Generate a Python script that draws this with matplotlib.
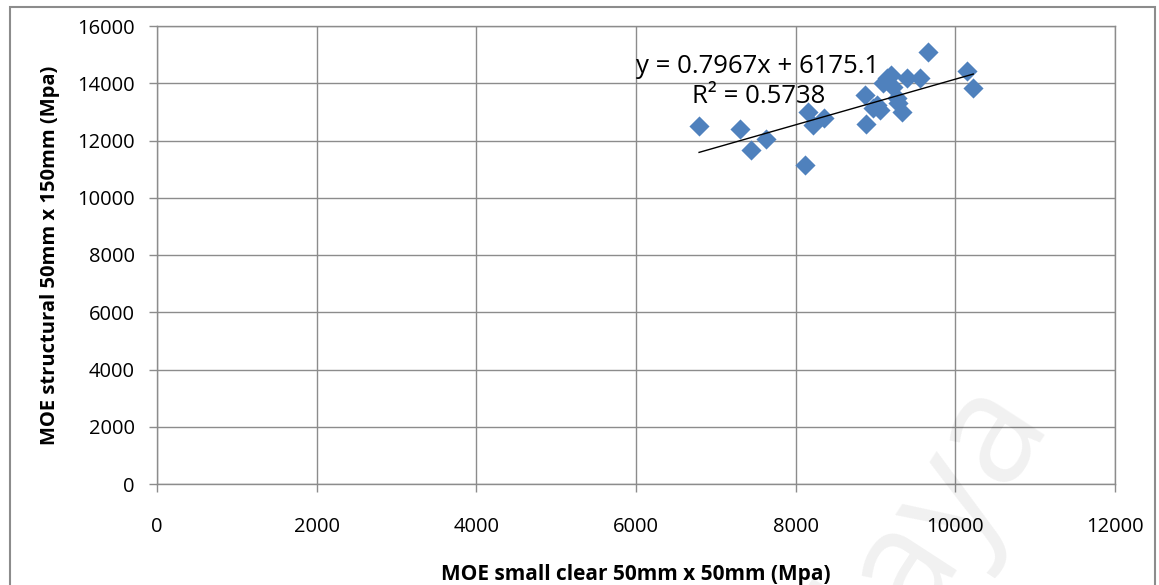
import numpy as np
import matplotlib
matplotlib.use("Agg")
import matplotlib.pyplot as plt
from matplotlib.patches import Rectangle

plt.rcParams['font.family'] = ['Open Sans', 'DejaVu Sans']

# MOE small clear (x) vs MOE structural (y)
moe_small = [6790, 7300, 7440, 7630, 8120, 8160, 8220, 8350, 8870, 8880,
             8970, 9015, 9060, 9095, 9140, 9200, 9220, 9265, 9280, 9330,
             9390, 9560, 9660, 10140, 10225]
moe_struct = [12520, 12410, 11660, 12060, 11150, 13010, 12540, 12770, 13590, 12560,
              13140, 13240, 13060, 14000, 14170, 14290, 13880, 13500, 13300, 13010,
              14200, 14170, 15100, 14440, 13830]

# linear trendline as displayed on the chart
slope = 0.7967
intercept = 6175.1
r_squared = 0.5738

x_ticks = [0, 2000, 4000, 6000, 8000, 10000, 12000]
y_ticks = [0, 2000, 4000, 6000, 8000, 10000, 12000, 14000, 16000]

fig = plt.figure(figsize=(11.59, 5.85), dpi=100)
ax = fig.add_axes([157 / 1159, 1 - 484 / 585, (1115 - 157) / 1159, (484 - 26) / 585])

grid_col = '#8c8c8c'
ax.scatter(moe_small, moe_struct, marker='D', s=105, color='#4F81BD', zorder=3, linewidths=0)

# trendline over the data range
xs = np.array([min(moe_small), max(moe_small)])
ax.plot(xs, slope * xs + intercept, color='black', lw=1, zorder=4)

ax.set_xlim(0, 12000)
ax.set_ylim(0, 16000)
ax.set_xticks(x_ticks)
ax.set_yticks(y_ticks)
ax.grid(True, color=grid_col, lw=1)
ax.set_axisbelow(True)
for sp in ax.spines.values():
    sp.set_color(grid_col)
    sp.set_linewidth(1)
ax.tick_params(axis='both', colors=grid_col, labelcolor='black', labelsize=14.5, length=6, width=1)
ax.tick_params(axis='x', pad=18)
ax.tick_params(axis='y', pad=10)

ax.set_xlabel('MOE small clear 50mm x 50mm (Mpa)', fontsize=15, fontweight='bold', labelpad=19)
ax.set_ylabel('MOE structural 50mm x 150mm (Mpa)', fontsize=14.5, fontweight='bold', labelpad=12)

ax.text(6000, 14600, 'y = %.4fx + %.1f' % (slope, intercept), fontsize=18.5, va='center', ha='left', zorder=5)
ax.text(6700, 13520, 'R\u00b2 = %.4f' % r_squared, fontsize=18.5, va='center', ha='left', zorder=5)

# chart frame
fig.patches.append(Rectangle((10 / 1159, -0.02), 1145 / 1159, 1.02 - 7 / 585,
                             transform=fig.transFigure, fill=False, edgecolor='#8c8c8c', lw=1.5))

# faint watermark
fig.text(0.755, -0.03, 'Malaya', fontsize=110, rotation=57, color='#000000', alpha=0.06,
         ha='center', va='center', zorder=0)

fig.savefig('out.png', dpi=100)
